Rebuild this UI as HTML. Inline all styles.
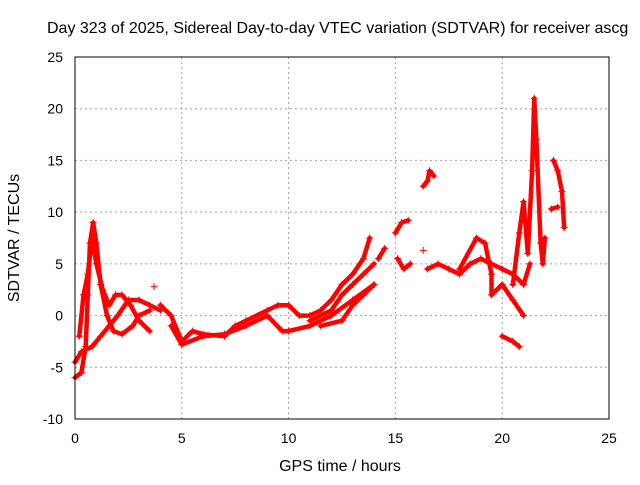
<!DOCTYPE html>
<html><head><meta charset="utf-8"><style>
body{margin:0;background:#fff}
svg text{font-family:"Liberation Sans",sans-serif;font-size:14px;fill:#000}
svg text.big{font-size:16px}
</style></head><body>
<svg width="640" height="480" xmlns="http://www.w3.org/2000/svg">
<text class="big" x="47" y="33">Day 323 of 2025, Sidereal Day-to-day VTEC variation (SDTVAR) for receiver ascg</text>
<g id="grid"></g>
<g id="ticks"></g>
<g id="series"></g>
<rect x="75" y="57" width="534" height="362" fill="none" stroke="#000"/>
<text class="big" x="340" y="471" text-anchor="middle">GPS time / hours</text>
<text class="big" transform="translate(19,238) rotate(-90)" text-anchor="middle">SDTVAR / TECUs</text>
</svg>
<script>
const xTicks=[0,5,10,15,20,25];
const yTicks=[-10,-5,0,5,10,15,20,25];
const trackA=[[0,-6],[0.3,-5.5],[0.5,-3],[0.6,2],[0.7,7],[0.85,9],[1.0,7],[1.2,3],[1.5,0],[1.8,-1.5],[2.2,-1.8],[2.7,-1],[3,0],[3.5,0.5]];
const trackB=[[0,-4.5],[0.3,-3.5],[0.8,-3],[1.2,-2],[1.6,-1],[2.0,0],[2.5,1.5],[3,1.5],[3.5,1],[4,0.5]];
const trackC=[[0.2,-2],[0.4,2],[0.6,4],[0.8,7.5],[1.0,5],[1.3,2.5],[1.6,1],[1.9,2],[2.2,2],[2.6,1],[3,-0.5],[3.5,-1.5]];
const trackD=[[4,1],[4.5,0],[5,-2.5],[5.5,-1.5],[6,-1.8],[7,-2],[7.5,-1],[8,-0.5],[9,0.5],[9.5,1],[10,1],[10.5,0],[11,0],[11.5,0.5],[12,1.5],[12.5,3],[13,4],[13.5,5.5],[13.8,7.5]];
const trackE=[[4.5,-1],[5,-2.8],[6,-2],[7,-1.8],[8,-1],[9,0],[9.7,-1.5],[10,-1.5],[11,-1],[12,0],[13,1.5],[14,3]];
const trackF=[[11,-0.5],[12,0.5],[12.5,2],[13,3],[13.5,4],[14,5]];
const trackG=[[11.5,-1],[12.5,-0.5],[13,1],[13.5,2],[14,3]];
const trackH=[[14.2,5.5],[14.5,6.5]];
const trackI=[[15,8],[15.3,9],[15.6,9.2]];
const trackJ=[[15.1,5.5],[15.4,4.5],[15.7,5]];
const trackK=[[16.3,12.5],[16.5,13],[16.6,14],[16.8,13.5]];
const trackL=[[16.5,4.5],[17,5],[17.5,4.5],[18,4],[18.5,5],[19,5.5],[19.5,5],[20,4.5],[20.5,4],[21,3],[21.3,5]];
const trackM=[[18,4.5],[18.8,7.5],[19.2,7],[19.5,4],[19.5,2],[20,3],[20.5,1.5],[21,0]];
const trackN=[[20,-2],[20.5,-2.5],[20.8,-3]];
const trackO=[[20.5,3],[20.8,8],[21,11],[21.2,6],[21.4,14],[21.5,21],[21.6,17],[21.8,7],[21.9,5],[22,7.5]];
const trackP=[[22.3,10.3],[22.6,10.5]];
const trackQ=[[22.4,15],[22.6,14],[22.8,12],[22.9,8.5]];
const singles=[[3.7,2.8],[16.3,6.3]];
const tracks=[trackA,trackB,trackC,trackD,trackE,trackF,trackG,trackH,trackI,trackJ,trackK,trackL,trackM,trackN,trackO,trackP,trackQ];
const X0=75,X1=609,Y0=419,Y1=57;
const xs=v=>X0+(v-0)/25*(X1-X0);
const ys=v=>Y0-(v+10)/35*(Y0-Y1);
const NS="http://www.w3.org/2000/svg";
const grid=document.getElementById('grid'),tk=document.getElementById('ticks'),ser=document.getElementById('series');
function mk(t,a,p){const e=document.createElementNS(NS,t);for(const k in a)e.setAttribute(k,a[k]);p.appendChild(e);return e;}
xTicks.forEach(v=>{const x=xs(v);
 if(v>0&&v<25){const l=mk('line',{x1:x,x2:x,y1:Y1,y2:Y0,stroke:'#a0a0a0','stroke-dasharray':'2,3'},grid);
 
 }
 const t=mk('text',{x:x,y:443,'text-anchor':'middle'},tk);t.textContent=v;
 
 });
yTicks.forEach(v=>{const y=ys(v);
 if(v>-10&&v<25){const l=mk('line',{x1:X0,x2:X1,y1:y,y2:y,stroke:'#a0a0a0','stroke-dasharray':'2,3'},grid);
 
 }
 const t=mk('text',{x:63,y:y+5,'text-anchor':'end'},tk);t.textContent=v;
 
 });
tracks.forEach(tr=>{const p=mk('polyline',{points:tr.map(d=>xs(d[0])+','+ys(d[1])).join(' '),fill:'none',stroke:'#f00','stroke-width':4.5,'stroke-linejoin':'round','stroke-linecap':'round'},ser);
 
 });
tracks.concat([singles]).forEach(tr=>tr.forEach(d=>{const x=xs(d[0]),y=ys(d[1]);
 const m=mk('path',{d:`M${x-3.5},${y}h7M${x},${y-3.5}v7`,stroke:'#f00','stroke-width':1},ser);
 
 }));
</script>
</body></html>
